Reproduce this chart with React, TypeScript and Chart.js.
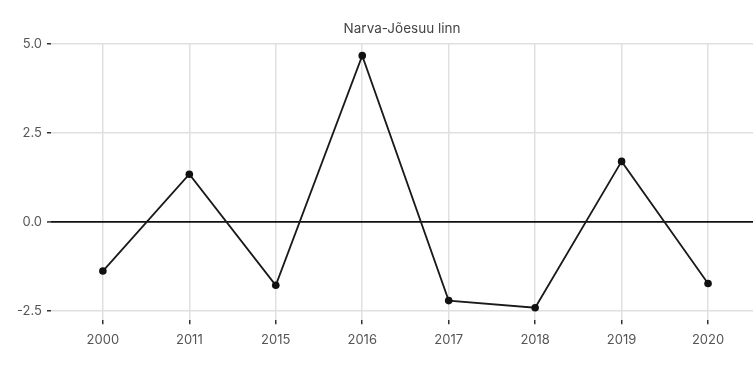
import React, { useEffect, useRef } from "react";
import { Chart, registerables } from "chart.js";
Chart.register(...registerables);

const chartTitle = "Narva-Jõesuu linn";
const years = ["2000", "2011", "2015", "2016", "2017", "2018", "2019", "2020"];
const values = [-1.38, 1.34, -1.78, 4.67, -2.21, -2.41, 1.7, -1.73];
const yTicks = [-2.5, 0, 2.5, 5.0];

export default function App() {
  const ref = useRef<HTMLCanvasElement>(null);
  useEffect(() => {
    document.body.style.margin = "0";
    const font = "Inter, 'DejaVu Sans', sans-serif";
    const grid = "#e0e0e0";
    const chart = new Chart(ref.current!, {
      type: "line",
      data: {
        datasets: [
          {
            data: values.map((v, i) => ({ x: i + 1, y: v })),
            borderColor: "#1a1a1a",
            backgroundColor: "#111",
            borderWidth: 1.8,
            pointRadius: 3.8,
            pointBackgroundColor: "#111",
            pointBorderWidth: 0,
            tension: 0,
          },
        ],
      },
      options: {
        responsive: false,
        animation: false,
        layout: { padding: 0, autoPadding: false },
        plugins: {
          legend: { display: false },
          tooltip: { enabled: false },
          title: {
            display: true,
            text: chartTitle,
            fullSize: false,
            color: "#444",
            font: { family: font, size: 13.5, weight: "normal" },
            padding: { top: 21, bottom: 6 },
          },
        },
        scales: {
          x: {
            type: "linear",
            min: 0.4,
            max: 8.52,
            afterBuildTicks: (s: any) => {
              s.ticks = years.map((_, i) => ({ value: i + 1 }));
            },
            afterFit: (s: any) => {
              s.height = 45.8;
              s.paddingLeft = 0;
              s.paddingRight = 0;
            },
            ticks: {
              callback: (v: any) => years[Number(v) - 1] ?? "",
              color: "#555",
              font: { family: font, size: 13 },
              padding: 8,
              maxRotation: 0,
              autoSkip: false,
            },
            grid: { color: grid, lineWidth: 1.5, tickLength: 4, tickColor: "#333", tickWidth: 1.5 },
            border: { display: false },
          },
          y: {
            type: "linear",
            min: -2.76,
            max: 5.02,
            afterBuildTicks: (s: any) => {
              s.ticks = yTicks.map((v) => ({ value: v }));
            },
            afterFit: (s: any) => {
              s.width = 51;
              s.paddingTop = 0;
              s.paddingBottom = 0;
            },
            ticks: {
              callback: (v: any) => Number(v).toFixed(1),
              color: "#555",
              font: { family: font, size: 13 },
              padding: 5,
            },
            grid: {
              color: (ctx: any) => (ctx.tick && ctx.tick.value === 0 ? "#111" : grid),
              lineWidth: (ctx: any) => (ctx.tick && ctx.tick.value === 0 ? 1.8 : 1.5),
              tickLength: 4,
              tickColor: "#333",
              tickWidth: 1.5,
            },
            border: { display: false },
          },
        },
      },
    });
    return () => chart.destroy();
  }, []);
  return <canvas ref={ref} width={753} height={366} style={{ display: "block" }} />;
}
